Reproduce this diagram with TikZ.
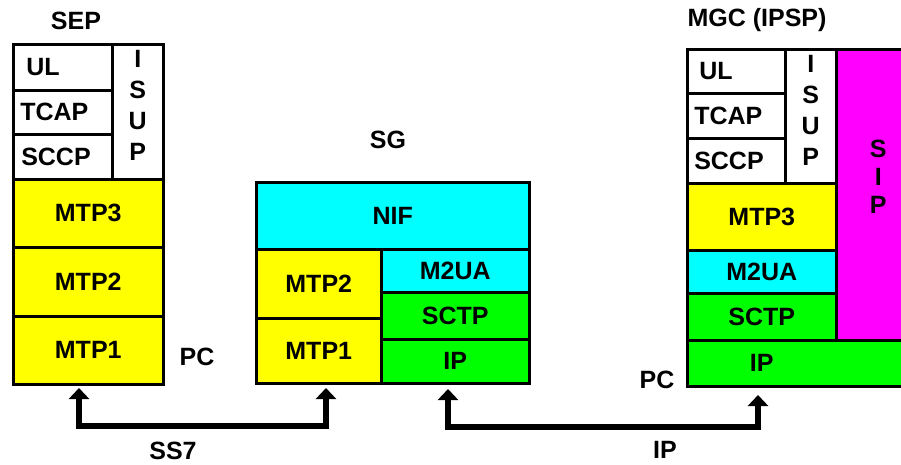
\documentclass[tikz,border=0pt]{standalone}
\usepackage{fontspec}
\setmainfont{Liberation Sans}
\usetikzlibrary{arrows.meta}
\definecolor{yel}{RGB}{255,255,0}
\definecolor{cya}{RGB}{0,255,255}
\definecolor{grn}{RGB}{0,255,0}
\definecolor{mag}{RGB}{255,0,255}
\tikzset{
  layer/.style={draw,line width=2.5pt,anchor=north west,inner sep=0pt,
    font=\fontsize{25}{31}\selectfont\bfseries,align=center},
  lbl/.style={font=\fontsize{25}{28}\selectfont\bfseries,inner sep=0pt},
  link/.style={line width=6pt,
    {Triangle[width=20pt,length=11pt]}-{Triangle[width=20pt,length=11pt]}}
}
\newcommand\Layer[7][]{\node[layer,fill=#2,minimum width=#5pt,minimum height=#6pt,#1] (#3) at (#4) {#7};}
\begin{document}
\begin{tikzpicture}[x=1pt,y=-1pt]
\useasboundingbox (0,0) rectangle (901,464);
\Layer[text width=73pt,align=left]{white}{sepul}{12,43}{99}{46}{UL}
\Layer[text width=85pt,align=left]{white}{septcap}{12,89}{99}{44}{TCAP}
\Layer[text width=83pt,align=left]{white}{sepsccp}{12,133}{99}{45}{SCCP}
\Layer[text depth=12pt]{white}{sepisup}{111,43}{51}{135}{I\\S\\U\\P}
\Layer{yel}{sepmtp3}{12,178}{150}{68}{MTP3}
\Layer{yel}{sepmtp2}{12,246}{150}{69}{MTP2}
\Layer{yel}{sepmtp1}{12,315}{150}{68}{MTP1}
\Layer{cya}{sgnif}{255,181}{273}{67}{NIF}
\Layer{yel}{sgmtp2}{255,248}{125}{69}{MTP2}
\Layer{yel}{sgmtp1}{255,317}{125}{65}{MTP1}
\Layer{cya}{sgm2ua}{380,248}{148}{43}{M2UA}
\Layer{grn}{sgsctp}{380,291}{148}{47}{SCTP}
\Layer{grn}{sgip}{380,338}{148}{44}{IP}
\Layer[text width=74pt,align=left]{white}{mgcul}{686,48}{98}{44}{UL}
\Layer[text width=84pt,align=left]{white}{mgctcap}{686,92}{98}{45}{TCAP}
\Layer[text width=84pt,align=left]{white}{mgcsccp}{686,137}{98}{45}{SCCP}
\Layer[text depth=12pt]{white}{mgcisup}{784,48}{51}{134}{I\\S\\U\\P}
\Layer{mag}{mgcsip}{835,48}{84}{291}{}
\Layer{yel}{mgcmtp3}{686,182}{149}{67}{MTP3}
\Layer{cya}{mgcm2ua}{686,249}{149}{43}{M2UA}
\Layer{grn}{mgcsctp}{686,292}{149}{47}{SCTP}
\Layer{grn}{mgcip}{686,339}{233}{46}{}
\node[lbl,align=center,yshift=18pt] (siptxt) at (mgcsip) {S\\I\\P};
\node[lbl] (iptxt) at (mgcip.center -| mgcsctp.center) {IP};
\node[lbl] (sep) at (76,21) {SEP};
\node[lbl] (sg) at (388,140) {SG};
\node[lbl] (mgc) at (757,20) {MGC (IPSP)};
\node[lbl] (pcl) at (197,357) {PC};
\node[lbl] (pcr) at (657,380) {PC};
\node[lbl] (ss7) at (173,451) {SS7};
\node[lbl] (ip) at (665,450) {IP};
\coordinate (ss7l) at (79,388); \coordinate (ss7r) at (326,388);
\coordinate (ipl) at (448,389); \coordinate (ipr) at (758,395);
\draw[link] (ss7l) |- (200,426) -| (ss7r);
\draw[link] (ipl) |- (600,427) -| (ipr);
\end{tikzpicture}
\end{document}
